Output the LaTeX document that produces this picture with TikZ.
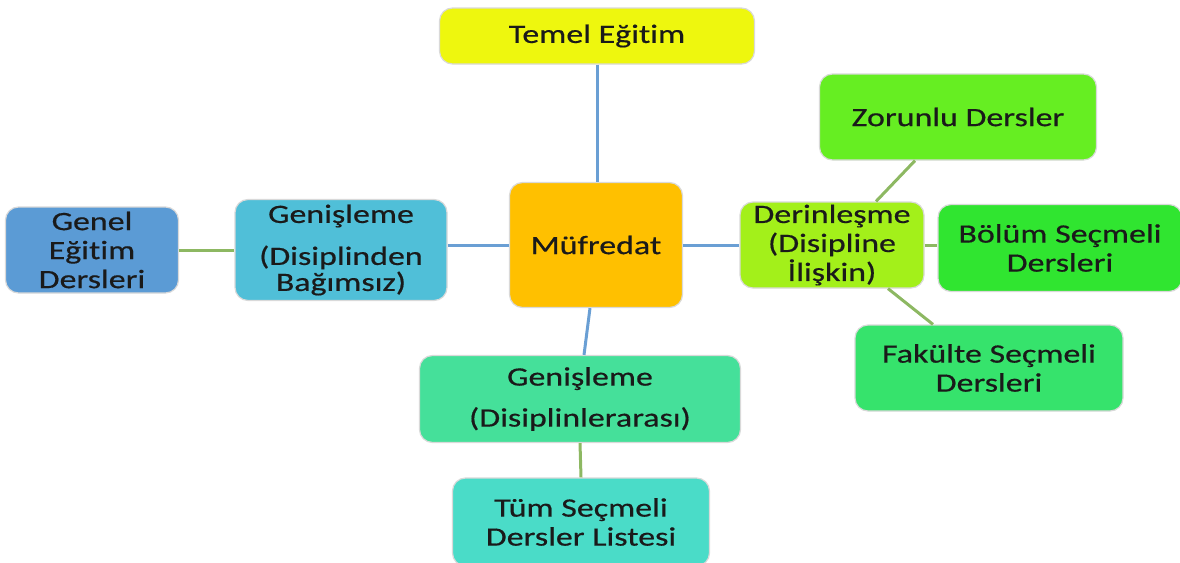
\documentclass[tikz,border=0pt]{standalone}
\usepackage{fontspec}
\setmainfont{Carlito}[FakeStretch=1.28, FakeBold=0.5, Ligatures={NoCommon}]
\usetikzlibrary{calc}
\definecolor{cTem}{HTML}{EEF70E}
\definecolor{cMuf}{HTML}{FFC000}
\definecolor{cGl}{HTML}{50BFD8}
\definecolor{cGen}{HTML}{5B9BD5}
\definecolor{cDer}{HTML}{A3F01A}
\definecolor{cZor}{HTML}{66EE22}
\definecolor{cBol}{HTML}{30E530}
\definecolor{cFak}{HTML}{36E36C}
\definecolor{cGb}{HTML}{45E09A}
\definecolor{cTum}{HTML}{4ADCC8}
\definecolor{cTxt}{HTML}{1A1A1A}
\definecolor{eBlue}{HTML}{6A9FD4}
\definecolor{eGreen}{HTML}{8DB862}
\begin{document}
\begin{tikzpicture}[x=1pt,y=-1pt,
  box/.style={draw=black!15, line width=1.2pt, rounded corners=13pt, align=center,
    text=cTxt, inner sep=0pt, font=\fontsize{26.5}{29}\selectfont},
  blueline/.style={draw=eBlue, line width=3pt},
  greenline/.style={draw=eGreen, line width=3pt}]
\useasboundingbox (0,0) rectangle (1180,562);
\node[box, fill=cTem, minimum width=315pt, minimum height=56pt] (tem) at (597,36) {Temel Eğitim};
\node[box, fill=cMuf, minimum width=173pt, minimum height=125pt] (muf) at (596,245) {Müfredat};
\node[box, fill=cGl, minimum width=212pt, minimum height=101pt] (gl) at (341,250)
  {Genişleme\\[13pt](Disiplinden\\[-3pt]Bağımsız)};
\node[box, fill=cGen, minimum width=173pt, minimum height=86pt] (gen) at (92,250)
  {Genel\\Eğitim\\Dersleri};
\node[box, fill=cDer, minimum width=184pt, minimum height=86pt] (der) at (832,245)
  {Derinleşme\\(Disipline\\İlişkin)};
\node[box, fill=cZor, minimum width=277pt, minimum height=86pt] (zor) at (958,117)
  {Zorunlu Dersler};
\node[box, fill=cBol, minimum width=244pt, minimum height=87pt] (bol) at (1060,248)
  {Bölüm Seçmeli\\Dersleri};
\node[box, fill=cFak, minimum width=268pt, minimum height=86pt] (fak) at (989,368)
  {Fakülte Seçmeli\\Dersleri};
\node[box, fill=cGb, minimum width=321pt, minimum height=87pt] (gb) at (580,399)
  {Genişleme\\[12pt](Disiplinlerarası)};
\node[box, fill=cTum, minimum width=257pt, minimum height=88pt] (tum) at (581,522)
  {Tüm Seçmeli\\Dersler Listesi};
% connectors
\draw[blueline] (tem.south) -- (tem.south |- muf.north);
\draw[blueline] (gl.east |- muf.west) -- (muf.west);
\draw[blueline] (muf.east) -- (muf.east -| der.west);
\draw[blueline] ($(muf.south)+(-6,0)$) -- ($(gb.north)+(4,0)$);
\draw[greenline] (gen.east) -- (gl.west);
\draw[greenline] ($(der.north)+(44,0)$) -- ($(zor.south)+(-43,0)$);
\draw[greenline] (der.east) -- (der.east -| bol.west);
\draw[greenline] ($(der.south)+(56,0)$) -- ($(fak.north)+(-56,0)$);
\draw[greenline] (gb.south) -- (tum.north);
\end{tikzpicture}
\end{document}
